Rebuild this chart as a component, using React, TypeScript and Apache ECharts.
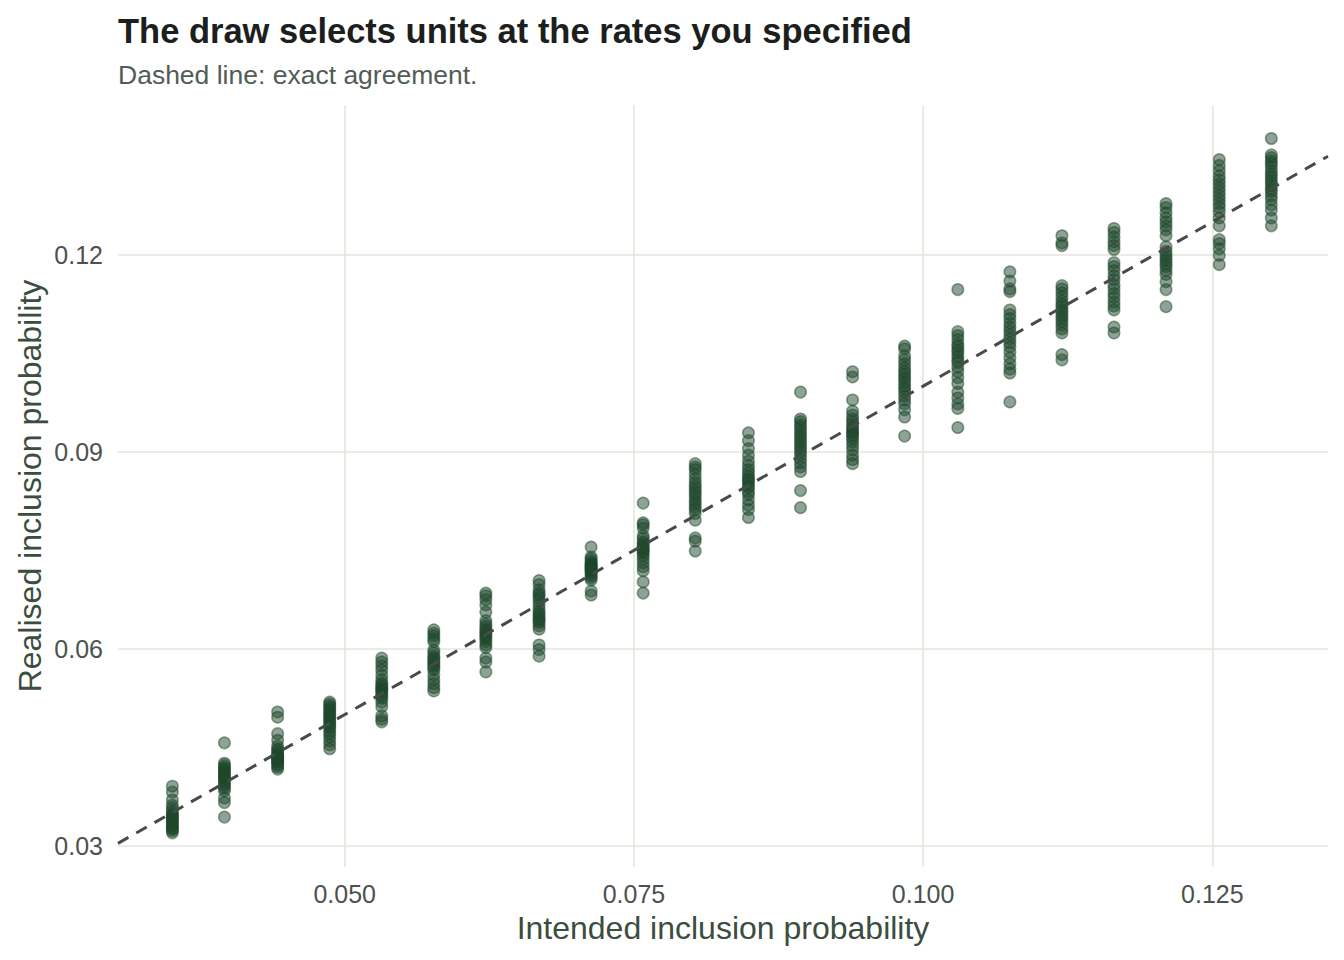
import React, { useEffect, useRef } from "react";
import * as echarts from "echarts";

// Intended inclusion probability of each stratum (x positions of the columns)
const intendedProbability = [
  0.0351, 0.0396, 0.0442, 0.0487, 0.0532, 0.0577, 0.0622, 0.0668, 0.0713, 0.0758, 0.0803,
  0.0849, 0.0894, 0.0939, 0.0984, 0.103, 0.1075, 0.112, 0.1165, 0.121, 0.1256, 0.1301,
];

// Realised inclusion probability of each repeated draw, one list per stratum
const realisedProbability = [
  [0.0391, 0.0382, 0.037, 0.0362, 0.0358, 0.0353, 0.035, 0.0347, 0.0346, 0.0343, 0.0341, 0.034, 0.0337, 0.0335, 0.0332, 0.033, 0.0327, 0.0326, 0.0323, 0.032],
  [0.0457, 0.0426, 0.0423, 0.042, 0.0417, 0.0416, 0.0413, 0.041, 0.0408, 0.0405, 0.0404, 0.0401, 0.0397, 0.0394, 0.0391, 0.0388, 0.0384, 0.0373, 0.0366, 0.0344],
  [0.0504, 0.0496, 0.0471, 0.0461, 0.0452, 0.0448, 0.0445, 0.0442, 0.0439, 0.0437, 0.0436, 0.0434, 0.0433, 0.0431, 0.0429, 0.0428, 0.0425, 0.0423, 0.042, 0.0417],
  [0.0519, 0.0516, 0.0513, 0.051, 0.0507, 0.0504, 0.0501, 0.0498, 0.0495, 0.0492, 0.0489, 0.0486, 0.0483, 0.048, 0.0475, 0.0471, 0.0466, 0.046, 0.0454, 0.0448],
  [0.0586, 0.058, 0.0574, 0.0568, 0.056, 0.0553, 0.0548, 0.0545, 0.0542, 0.0539, 0.0538, 0.0535, 0.0531, 0.0528, 0.0525, 0.0519, 0.0512, 0.0498, 0.0493, 0.0489],
  [0.0629, 0.0624, 0.062, 0.0615, 0.0611, 0.0598, 0.0594, 0.0589, 0.0586, 0.0583, 0.058, 0.0577, 0.0574, 0.0571, 0.0568, 0.056, 0.0553, 0.0547, 0.0541, 0.0536],
  [0.0685, 0.0681, 0.0675, 0.0667, 0.0656, 0.0643, 0.0638, 0.0634, 0.063, 0.0627, 0.0624, 0.0621, 0.0618, 0.0615, 0.0611, 0.0606, 0.0602, 0.0586, 0.058, 0.0565],
  [0.0704, 0.0698, 0.069, 0.0685, 0.0682, 0.0678, 0.0673, 0.0667, 0.0661, 0.0656, 0.0653, 0.0649, 0.0646, 0.0643, 0.064, 0.0635, 0.063, 0.0606, 0.0599, 0.0589],
  [0.0755, 0.074, 0.0737, 0.0734, 0.0731, 0.0729, 0.0728, 0.0726, 0.0725, 0.0723, 0.0722, 0.072, 0.0719, 0.0717, 0.0714, 0.0711, 0.0708, 0.0705, 0.0688, 0.0682],
  [0.0822, 0.0792, 0.0789, 0.0784, 0.0772, 0.0768, 0.0763, 0.076, 0.0757, 0.0754, 0.0751, 0.0749, 0.0746, 0.0742, 0.0737, 0.0731, 0.0725, 0.0719, 0.0702, 0.0685],
  [0.0882, 0.0877, 0.0873, 0.0866, 0.0859, 0.0853, 0.0848, 0.0844, 0.0839, 0.0835, 0.083, 0.0825, 0.0821, 0.0816, 0.0812, 0.0806, 0.0796, 0.0769, 0.0764, 0.0749],
  [0.0929, 0.0917, 0.0905, 0.0895, 0.0886, 0.0879, 0.0873, 0.0868, 0.0863, 0.0859, 0.0856, 0.0853, 0.0848, 0.0845, 0.0839, 0.0835, 0.0827, 0.0819, 0.0812, 0.08],
  [0.0991, 0.095, 0.0946, 0.0941, 0.0937, 0.0932, 0.0927, 0.0923, 0.0918, 0.0914, 0.0909, 0.0905, 0.09, 0.0895, 0.0889, 0.0883, 0.0877, 0.087, 0.0841, 0.0815],
  [0.1022, 0.1014, 0.0979, 0.0962, 0.0956, 0.095, 0.0946, 0.0941, 0.0937, 0.0933, 0.093, 0.0927, 0.0924, 0.092, 0.0915, 0.0909, 0.0903, 0.0895, 0.0888, 0.0882],
  [0.1061, 0.1057, 0.1046, 0.104, 0.1034, 0.1028, 0.1023, 0.1019, 0.1014, 0.101, 0.1005, 0.1, 0.0996, 0.0991, 0.0985, 0.0979, 0.0973, 0.0964, 0.0953, 0.0924],
  [0.1147, 0.1083, 0.1077, 0.1071, 0.1064, 0.106, 0.1055, 0.1051, 0.1045, 0.104, 0.1036, 0.1029, 0.1022, 0.1013, 0.1004, 0.0991, 0.0982, 0.0973, 0.0966, 0.0937],
  [0.1174, 0.116, 0.1148, 0.1144, 0.1116, 0.1109, 0.1103, 0.1096, 0.109, 0.1084, 0.1078, 0.1072, 0.1066, 0.106, 0.1052, 0.1043, 0.1034, 0.1026, 0.102, 0.0976],
  [0.1229, 0.1218, 0.1214, 0.1153, 0.1148, 0.1142, 0.1136, 0.113, 0.1125, 0.1121, 0.1116, 0.1112, 0.1107, 0.1103, 0.1098, 0.1093, 0.1087, 0.1081, 0.1048, 0.104],
  [0.124, 0.1234, 0.1227, 0.122, 0.1214, 0.1208, 0.1188, 0.1182, 0.1176, 0.1168, 0.1162, 0.1154, 0.1148, 0.1141, 0.1135, 0.1128, 0.1122, 0.1116, 0.109, 0.1081],
  [0.1278, 0.1272, 0.1264, 0.1256, 0.125, 0.1244, 0.1238, 0.1229, 0.1212, 0.1205, 0.12, 0.1195, 0.1191, 0.1186, 0.1182, 0.1176, 0.117, 0.1159, 0.1147, 0.1121],
  [0.1345, 0.1336, 0.1328, 0.132, 0.1314, 0.1308, 0.1302, 0.1296, 0.129, 0.1284, 0.1278, 0.1272, 0.1265, 0.1256, 0.1244, 0.1223, 0.1217, 0.1209, 0.1199, 0.1185],
  [0.1377, 0.1352, 0.1348, 0.1343, 0.1339, 0.1334, 0.1328, 0.1323, 0.1319, 0.1314, 0.131, 0.1305, 0.13, 0.1296, 0.129, 0.1284, 0.1276, 0.1268, 0.1256, 0.1244],
];

// Axis ranges and tick marks
const xLimits = [0.0304, 0.135];
const yLimits = [0.0268, 0.1428];
const xTicks = [0.05, 0.075, 0.1, 0.125];
const yTicks = [0.03, 0.06, 0.09, 0.12];

const TITLE = "The draw selects units at the rates you specified";
const SUBTITLE = "Dashed line: exact agreement.";
const X_NAME = "Intended inclusion probability";
const Y_NAME = "Realised inclusion probability";

const FONT = "'Liberation Sans', Arial, Helvetica, sans-serif";
const POINT = "rgba(30, 72, 44, 0.5)";
const GRID = "#e5e6da";

export default function App() {
  const ref = useRef<HTMLDivElement>(null);

  useEffect(() => {
    if (!ref.current) return;
    const chart = echarts.init(ref.current, undefined, { renderer: "svg" });

    const points: number[][] = [];
    intendedProbability.forEach((x, i) => {
      realisedProbability[i].forEach((y) => points.push([x, y]));
    });

    // identity line y = x across the visible x range
    const agreement = [
      [xLimits[0], xLimits[0]],
      [xLimits[1], xLimits[1]],
    ];

    const option: echarts.EChartsOption = {
      animation: false,
      backgroundColor: "#ffffff",
      textStyle: { fontFamily: FONT },
      grid: { left: 118, right: 16, top: 105, bottom: 93, containLabel: false },
      xAxis: {
        type: "value",
        min: xLimits[0],
        max: xLimits[1],
        axisLine: { show: false },
        axisTick: { show: false, customValues: xTicks },
        axisLabel: {
          customValues: xTicks,
          formatter: (v: number) => v.toFixed(3),
          color: "#4b524d",
          fontSize: 25,
          margin: 14,
          fontFamily: FONT,
        },
        splitLine: { show: true, lineStyle: { color: GRID, width: 1.6 } },
      },
      yAxis: {
        type: "value",
        min: yLimits[0],
        max: yLimits[1],
        axisLine: { show: false },
        axisTick: { show: false, customValues: yTicks },
        axisLabel: {
          customValues: yTicks,
          formatter: (v: number) => v.toFixed(2),
          color: "#4b524d",
          fontSize: 25,
          margin: 15,
          fontFamily: FONT,
        },
        splitLine: { show: true, lineStyle: { color: GRID, width: 1.6 } },
      },
      series: [
        {
          type: "scatter",
          data: points,
          symbol: "circle",
          symbolSize: 11.5,
          itemStyle: { color: POINT, borderColor: POINT, borderWidth: 1.5, opacity: 1 },
          z: 2,
        },
        {
          type: "line",
          data: agreement,
          symbol: "none",
          lineStyle: { color: "#464b48", width: 3, type: [12, 9] },
          z: 3,
        },
      ],
      graphic: [
        {
          type: "text",
          left: 118,
          top: 13,
          style: { text: TITLE, fontSize: 34.5, fontWeight: "bold", fill: "#1b201d", fontFamily: FONT },
        },
        {
          type: "text",
          left: 118,
          top: 61,
          style: { text: SUBTITLE, fontSize: 26.5, fill: "#525c55", fontFamily: FONT },
        },
        {
          type: "text",
          x: 723,
          y: 928,
          style: {
            text: X_NAME,
            fontSize: 32,
            fill: "#3b4d3e",
            fontFamily: FONT,
            align: "center",
            verticalAlign: "middle",
          },
        },
        {
          type: "text",
          x: 30,
          y: 486,
          rotation: Math.PI / 2,
          style: {
            text: Y_NAME,
            fontSize: 32,
            fill: "#3b4d3e",
            fontFamily: FONT,
            align: "center",
            verticalAlign: "middle",
          },
        },
      ],
    };

    chart.setOption(option);
    return () => chart.dispose();
  }, []);

  return (
    <div
      ref={ref}
      style={{ position: "absolute", left: 0, top: 0, width: 1344, height: 960 }}
    />
  );
}
